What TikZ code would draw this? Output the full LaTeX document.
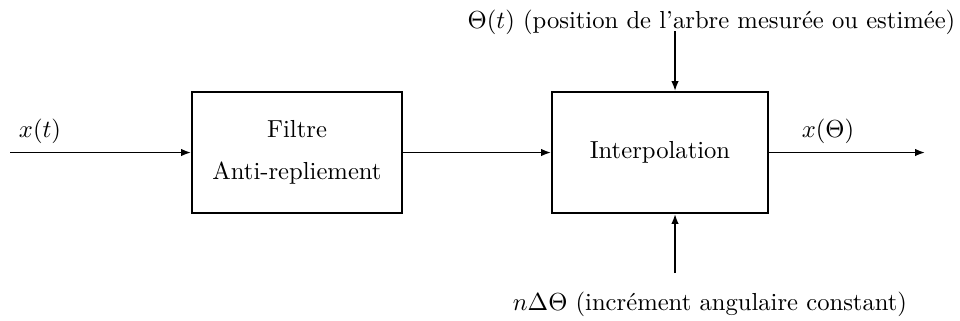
\documentclass[tikz,border=0pt]{standalone}
\usetikzlibrary{arrows.meta}
\begin{document}
\begin{tikzpicture}[x=0.406pt,y=-0.406pt,
  blk/.style={draw,line width=0.8pt,inner sep=0pt,align=center},
  conn/.style={line width=0.65pt,-{Latex[length=4pt,width=3pt]}},
  lbl/.style={inner sep=0pt,anchor=base}]
\useasboundingbox (0,0) rectangle (960,320);
\node[blk,minimum width=210*0.406pt,minimum height=121*0.406pt] (f) at (297,152.5) {Filtre\\[5pt]Anti-repliement};
\node[blk,minimum width=216*0.406pt,minimum height=121*0.406pt] (i) at (660,152.5) {Interpolation};
\coordinate (in) at (10,152.5);
\coordinate (out) at (925,152.5);
\coordinate (top) at (675,31);
\coordinate (bot) at (675,273);
\draw[conn] (in) -- (f.west);
\draw[conn] (f.east) -- (i.west);
\draw[conn] (i.east) -- (out);
\draw[conn] (top) -- (top |- i.north);
\draw[conn] (bot) -- (bot |- i.south);
\node[lbl] (xt) at (40,137) {$x(t)$};
\node[lbl] (xth) at (828,137) {$x(\Theta)$};
\node[lbl] (tl) at (711.5,28) {$\Theta(t)$ (position de l'arbre mesurée ou estimée)};
\node[lbl] (bl) at (710,310) {$n\Delta\Theta$ (incrément angulaire constant)};
\end{tikzpicture}
\end{document}
